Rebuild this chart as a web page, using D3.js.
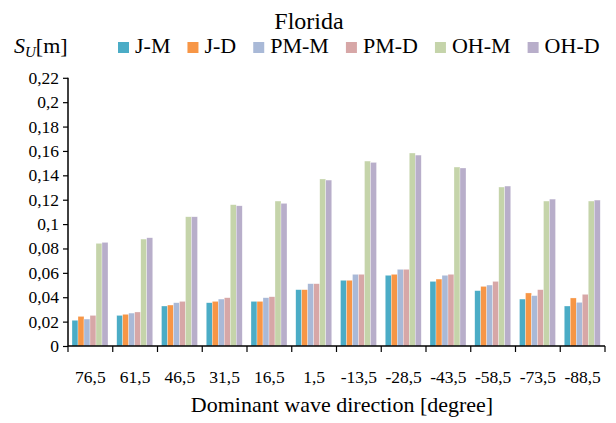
<!DOCTYPE html>
<html>
<head>
<meta charset="utf-8">
<script src="https://cdn.jsdelivr.net/npm/d3@7"></script>
</head>
<body style="margin:0">
<svg id="chart" width="616" height="423"></svg>
<script>
// ---- data ----
const categories = ["76,5","61,5","46,5","31,5","16,5","1,5","-13,5","-28,5","-43,5","-58,5","-73,5","-88,5"];
const seriesNames = ["J-M","J-D","PM-M","PM-D","OH-M","OH-D"];
const seriesColors = ["#4BACC6","#F79646","#A9B9D7","#D7A7A7","#C5D4AA","#B8AECA"];
const JM  = [0.0211,0.0251,0.0328,0.0355,0.0366,0.0462,0.0539,0.0580,0.0530,0.0454,0.0385,0.0328];
const JD  = [0.0243,0.0260,0.0336,0.0366,0.0366,0.0462,0.0539,0.0588,0.0549,0.0489,0.0435,0.0394];
const PMM = [0.0221,0.0270,0.0355,0.0385,0.0396,0.0511,0.0588,0.0629,0.0580,0.0500,0.0413,0.0358];
const PMD = [0.0251,0.0279,0.0366,0.0396,0.0404,0.0511,0.0588,0.0629,0.0588,0.0530,0.0462,0.0424];
const OHM = [0.0842,0.0877,0.1060,0.1159,0.1189,0.1370,0.1517,0.1583,0.1468,0.1304,0.1189,0.1189];
const OHD = [0.0850,0.0888,0.1060,0.1150,0.1170,0.1361,0.1506,0.1566,0.1460,0.1312,0.1205,0.1197];
const seriesValues = [JM, JD, PMM, PMD, OHM, OHD];
const yTicks = [0,0.02,0.04,0.06,0.08,0.1,0.12,0.14,0.16,0.18,0.2,0.22];
const titleText = "Florida";
const xAxisTitle = "Dominant wave direction [degree]";

// ---- layout ----
const FONT = "Times New Roman";
const svg = d3.select("#chart");
const pLeft = 68, pRight = 605, pBottom = 346, pTop = 77.8;

const x0 = d3.scaleBand().domain(categories).range([pLeft, pRight]).paddingInner(0).paddingOuter(0);
const x1 = d3.scaleBand().domain(seriesNames).range([4, 40]).padding(0);
const y = d3.scaleLinear().domain([0, 0.22]).range([pBottom, pTop]);

const fmt = d => String(+d.toFixed(2)).replace(".", ",");

function addText(parent, x, yy, size, str, anchor) {
  return parent.append("text").attr("x", x).attr("y", yy)
    .attr("font-family", FONT).attr("font-size", size)
    .attr("text-anchor", anchor || "start").attr("fill", "#000").text(str);
}

// bars
const rows = categories.map((c, i) => ({cat: c, vals: seriesNames.map((s, j) => ({s, v: seriesValues[j][i], color: seriesColors[j]}))}));
svg.append("g").selectAll("g").data(rows).join("g")
  .attr("transform", d => `translate(${x0(d.cat)},0)`)
  .selectAll("rect").data(d => d.vals).join("rect")
  .attr("x", d => x1(d.s))
  .attr("width", x1.bandwidth())
  .attr("y", d => y(d.v))
  .attr("height", d => y(0) - y(d.v))
  .attr("fill", d => d.color)
  .attr("stroke", "#ffffff")
  .attr("stroke-width", 0.5)
  .attr("stroke-opacity", 0.6);

// y axis (lines via d3 axis, labels as own text elements)
const yAxis = d3.axisLeft(y).tickValues(yTicks).tickFormat("").tickSize(5);
const ya = svg.append("g").attr("transform", `translate(${pLeft},0)`).call(yAxis);
ya.select(".domain").attr("stroke", "#000").attr("stroke-width", 1.5).attr("d", `M0,${pTop}V${pBottom}`);
ya.selectAll(".tick line").attr("stroke", "#000").attr("stroke-width", 1.2);
ya.selectAll(".tick text").remove();
yTicks.forEach(t => addText(svg, pLeft - 9, y(t) + 6, 17.5, fmt(t), "end"));

// x axis: ticks at category boundaries
const xa = svg.append("g").attr("transform", `translate(0,${pBottom})`);
xa.append("line").attr("x1", pLeft).attr("x2", pRight).attr("y1", 0).attr("y2", 0)
  .attr("stroke", "#000").attr("stroke-width", 1.5);
const boundaries = categories.map(c => x0(c)).concat([x0(categories[categories.length-1]) + x0.bandwidth()]);
xa.selectAll("line.tk").data(boundaries).join("line").attr("class","tk")
  .attr("x1", d => d).attr("x2", d => d).attr("y1", 0).attr("y2", 6)
  .attr("stroke", "#000").attr("stroke-width", 1.2);
categories.forEach(c => addText(svg, x0(c) + x0.bandwidth() / 2, pBottom + 37, 17.5, c, "middle"));

// title
addText(svg, 309, 29, 24, titleText, "middle");

// x-axis title
addText(svg, 342, 412, 22, xAxisTitle, "middle");

// y-axis label S_U[m]
const yl = addText(svg, 14, 53, 22, "");
yl.append("tspan").attr("font-style", "italic").text("S");
yl.append("tspan").attr("font-style", "italic").attr("font-size", 15).attr("dy", 4).text("U");
yl.append("tspan").attr("dy", -4).text("[m]");

// legend
let lx = 118;
seriesNames.forEach((s, i) => {
  svg.append("rect").attr("x", lx).attr("y", 42).attr("width", 11).attr("height", 11).attr("fill", seriesColors[i]);
  const t = addText(svg, lx + 17, 53, 22, s);
  lx += 17 + t.node().getComputedTextLength() + 17;
});
</script>
</body>
</html>
